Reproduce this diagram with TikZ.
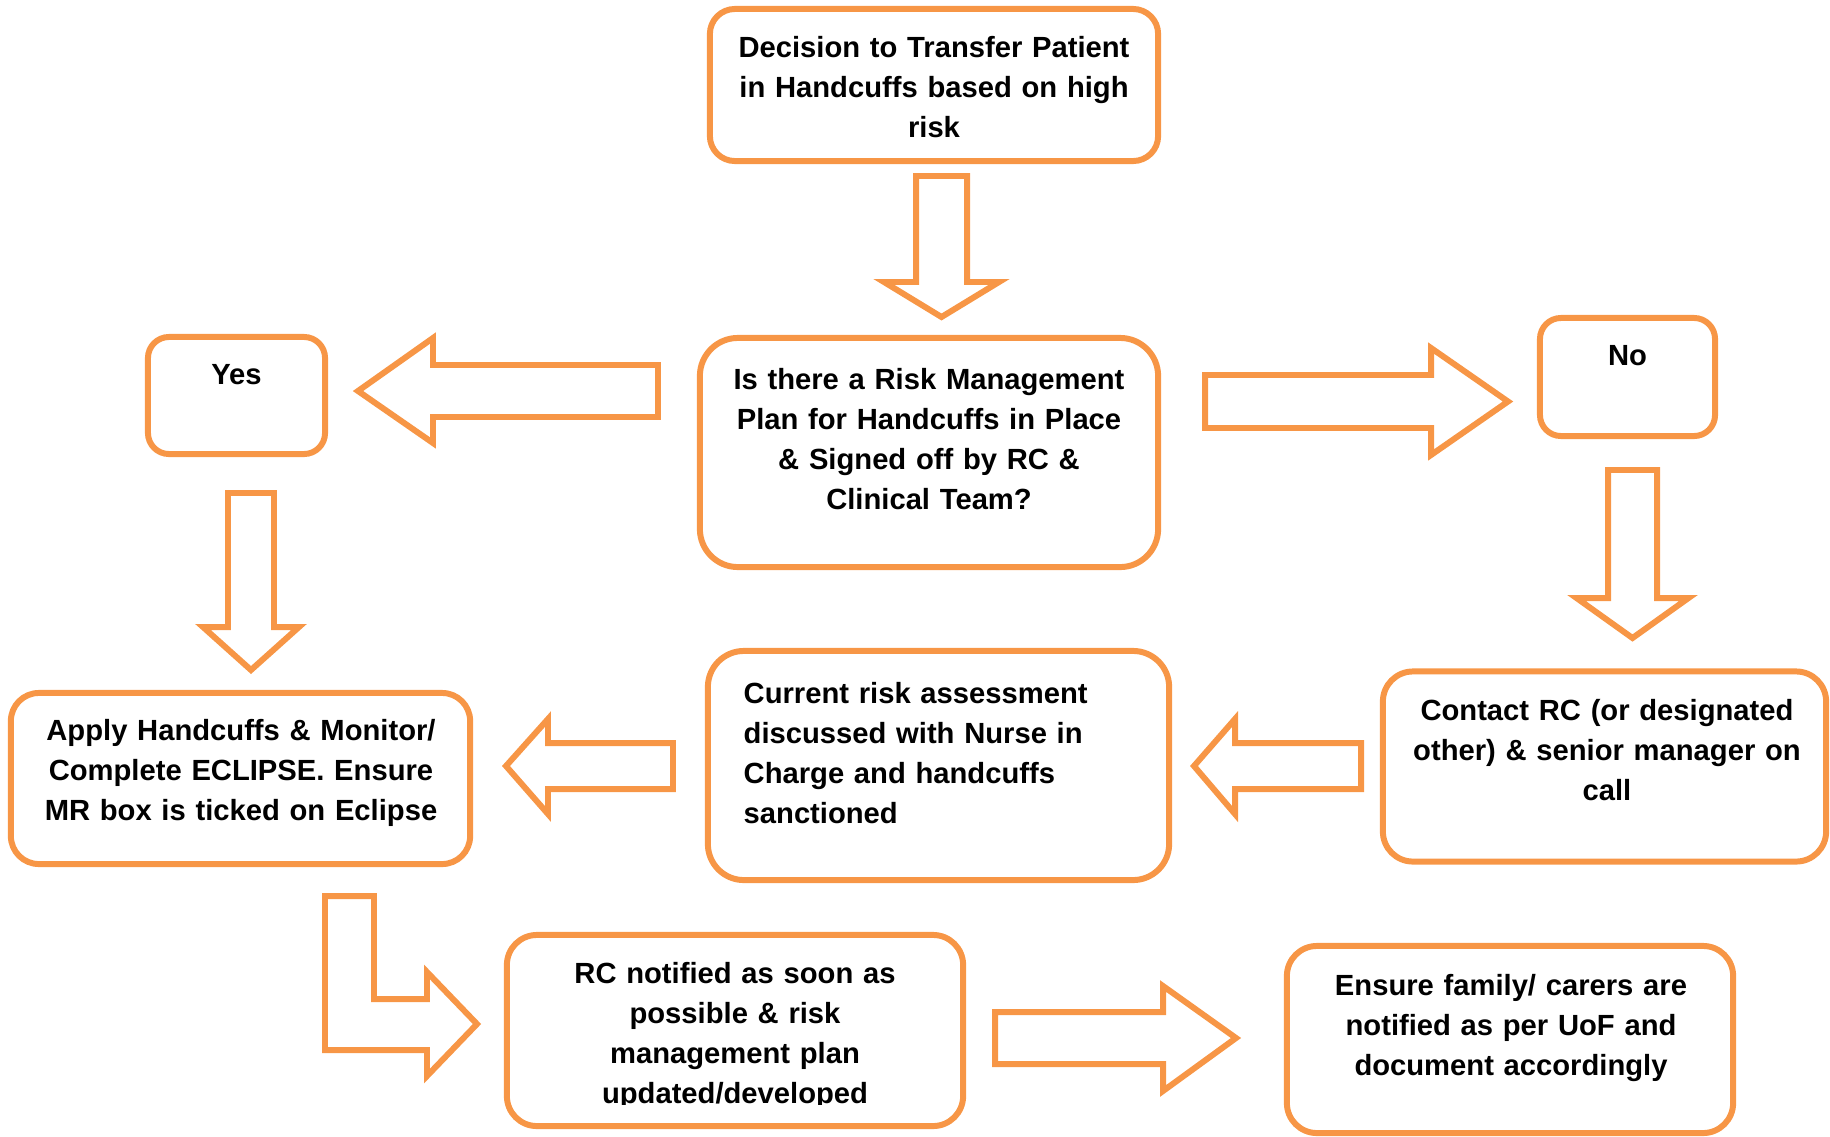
\documentclass[tikz,border=0pt]{standalone}
\usepackage{fontspec}
\setmainfont{Liberation Sans}
\definecolor{boxorange}{HTML}{F79646}
\tikzset{
  box/.style={draw=boxorange, line width=1.7pt, fill=white, rectangle, inner sep=0pt},
  txt/.style={font=\fontsize{8.3}{11.4}\selectfont\bfseries, inner sep=0pt, text width=4.4cm, align=center, anchor=base},
  blockarr/.style={draw=boxorange, line width=1.7pt, line join=miter}
}

\begin{document}
\begin{tikzpicture}[x=0.01cm, y=-0.01cm]
    \useasboundingbox (0,0) rectangle (1830,1136);
    % boxes
    \node[box, minimum width=4.48cm, minimum height=1.52cm, rounded corners=0.25cm] (decision) at (934,85) {};
    \node[box, minimum width=4.58cm, minimum height=2.29cm, rounded corners=0.38cm] (plan) at (929,452.5) {};
    \node[box, minimum width=1.77cm, minimum height=1.17cm, rounded corners=0.21cm] (yes) at (236.5,395.5) {};
    \node[box, minimum width=1.75cm, minimum height=1.18cm, rounded corners=0.21cm] (no) at (1627.5,377) {};
    \node[box, minimum width=4.59cm, minimum height=1.71cm, rounded corners=0.28cm] (apply) at (240.5,778.5) {};
    \node[box, minimum width=4.61cm, minimum height=2.29cm, rounded corners=0.36cm] (current) at (938.5,765.5) {};
    \node[box, minimum width=4.43cm, minimum height=1.90cm, rounded corners=0.3cm] (contact) at (1604.5,766.5) {};
    \node[box, minimum width=4.56cm, minimum height=1.91cm, rounded corners=0.3cm] (rcnote) at (735,1030.5) {};
    \node[box, minimum width=4.46cm, minimum height=1.87cm, rounded corners=0.3cm] (ensure) at (1510,1039.5) {};
    % texts
    \node[txt] (decisiontext) at (934,57) {Decision to Transfer Patient\\in Handcuffs based on high\\risk};
    \node[txt] (plantext) at (929,389) {Is there a Risk Management\\Plan for Handcuffs in Place\\\& Signed off by RC \&\\Clinical Team?};
    \node[txt] (yestext) at (236.5,384) {Yes};
    \node[txt] (notext) at (1627.5,365) {No};
    \node[txt] (applytext) at (241,740) {Apply Handcuffs \& Monitor/\\Complete ECLIPSE. Ensure\\MR box is ticked on Eclipse};
    \node[txt, text width=3.9cm, align=left, anchor=base west] (currenttext) at (743,703) {Current risk assessment\\discussed with Nurse in\\Charge and handcuffs\\sanctioned};
    \node[txt] (contacttext) at (1607,720) {Contact RC (or designated\\other) \& senior manager on\\call};
    \begin{scope}
        \clip (500,930) rectangle (970,1104);
        \node[txt] (rctext) at (735,983) {RC notified as soon as\\possible \& risk\\management plan\\updated/developed};
    \end{scope}
    \node[txt] (ensuretext) at (1511,995) {Ensure family/ carers are\\notified as per UoF and\\document accordingly};
    % block arrows
    \draw[blockarr] (916,176) -- (967,176) -- (967,282) -- (999,282) -- (941.5,317) -- (884,282) -- (916,282) -- cycle;
    \draw[blockarr] (658,365) -- (433,365) -- (433,338) -- (358,391) -- (433,443) -- (433,417) -- (658,417) -- cycle;
    \draw[blockarr] (1205,375) -- (1431,375) -- (1431,348) -- (1508,401.5) -- (1431,455) -- (1431,428) -- (1205,428) -- cycle;
    \draw[blockarr] (1608,470) -- (1657,470) -- (1657,598) -- (1688.5,598) -- (1632.5,638) -- (1576.5,598) -- (1608,598) -- cycle;
    \draw[blockarr] (228,493) -- (274,493) -- (274,627) -- (299,627) -- (251,670) -- (203,627) -- (228,627) -- cycle;
    \draw[blockarr] (1361,743) -- (1235,743) -- (1235,719) -- (1194,766) -- (1235,814) -- (1235,789) -- (1361,789) -- cycle;
    \draw[blockarr] (673,743) -- (548,743) -- (548,719) -- (506,766) -- (548,814) -- (548,789) -- (673,789) -- cycle;
    \draw[blockarr] (325,896) -- (374,896) -- (374,999) -- (427,999) -- (427,972) -- (477,1024) -- (427,1076) -- (427,1050) -- (325,1050) -- cycle;
    \draw[blockarr] (995,1012) -- (1163,1012) -- (1163,986) -- (1236,1038) -- (1163,1091) -- (1163,1064) -- (995,1064) -- cycle;
\end{tikzpicture}
\end{document}
